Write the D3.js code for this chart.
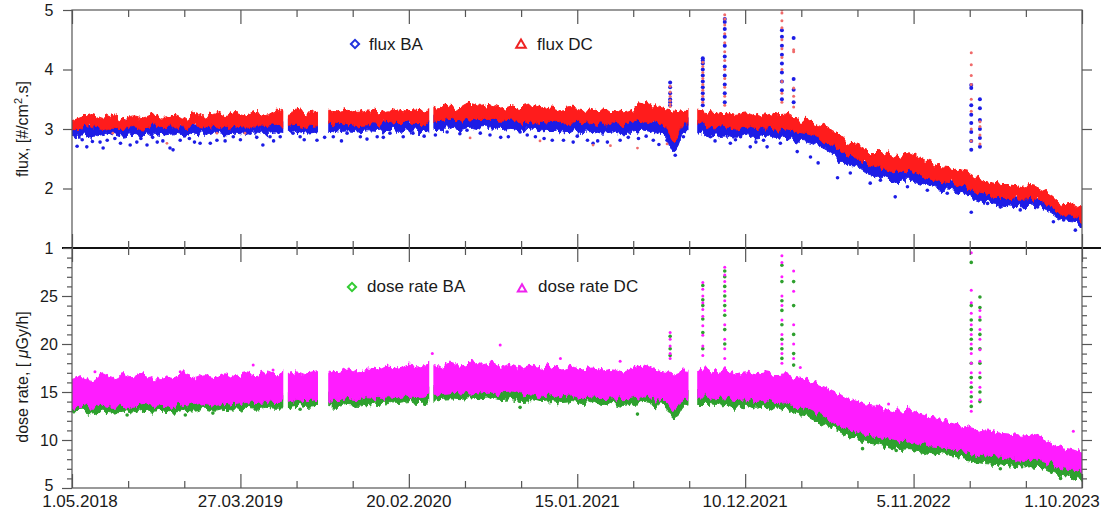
<!DOCTYPE html>
<html>
<head>
<meta charset="utf-8">
<script src="https://cdn.jsdelivr.net/npm/d3@7"></script>
<style>
  body { margin: 0; background: #fff; }
  svg { display: block; font-family: "Liberation Sans", Arial, sans-serif; }
</style>
</head>
<body>
<svg id="chart" width="1101" height="514"></svg>
<script>
// time axis
const startDate = new Date(2018, 4, 1);
const endDate = new Date(2023, 9, 1);
const tickDates = ["2018-05-01", "2019-03-27", "2020-02-20", "2021-01-15", "2021-12-10", "2022-11-05", "2023-10-01"];
const tickLabels = ["1.05.2018", "27.03.2019", "20.02.2020", "15.01.2021", "10.12.2021", "5.11.2022", "1.10.2023"];

// envelopes of the dense point clouds, one value every 20 days from 1.05.2018
const sampleStepDays = 20;
// periods without data
const dataGaps = [["2019-06-19", "2019-06-28"], ["2019-08-26", "2019-09-15"], ["2020-03-31", "2020-04-08"], ["2021-08-21", "2021-09-07"]];

const fluxDcHi = [3.14,3.20,3.26,3.18,3.24,3.17,3.22,3.19,3.25,3.18,
  3.23,3.16,3.26,3.20,3.27,3.21,3.26,3.22,3.28,3.23,
  3.30,3.26,3.30,3.25,3.28,3.30,3.29,3.33,3.28,3.32,
  3.29,3.34,3.30,3.33,3.31,3.34,3.36,3.40,3.36,3.43,
  3.38,3.42,3.37,3.41,3.36,3.39,3.34,3.37,3.32,3.35,
  3.31,3.34,3.30,3.33,3.29,3.34,3.45,3.38,3.33,3.30,
  3.33,3.32,3.30,3.26,3.28,3.23,3.27,3.22,3.27,3.24,
  3.25,3.17,3.16,3.08,3.02,2.92,2.78,2.76,2.62,2.62,
  2.58,2.52,2.60,2.50,2.44,2.37,2.35,2.30,2.26,2.15,
  2.10,2.07,2.04,2.02,2.05,1.98,1.88,1.75,1.74,1.63];
const fluxDcLo = [3.00,3.02,3.04,2.99,3.03,3.01,3.04,3.00,3.05,3.02,
  3.04,3.00,3.05,3.03,3.06,3.02,3.05,3.03,3.07,3.04,
  3.08,3.06,3.08,3.05,3.07,3.08,3.07,3.10,3.07,3.09,
  3.08,3.11,3.09,3.10,3.09,3.10,3.13,3.16,3.13,3.17,
  3.14,3.16,3.13,3.15,3.12,3.14,3.11,3.13,3.10,3.12,
  3.09,3.11,3.08,3.10,3.07,3.10,3.14,3.10,3.08,2.78,
  3.10,3.10,3.05,3.02,3.04,3.00,3.03,2.99,3.02,2.98,
  3.00,2.95,2.92,2.86,2.78,2.66,2.55,2.50,2.40,2.36,
  2.30,2.27,2.30,2.22,2.18,2.12,2.10,2.05,2.00,1.90,
  1.88,1.85,1.83,1.82,1.83,1.78,1.68,1.56,1.55,1.45];
const fluxBaHi = [3.07,3.09,3.10,3.06,3.10,3.08,3.11,3.07,3.12,3.09,
  3.11,3.07,3.12,3.10,3.13,3.09,3.12,3.10,3.14,3.11,
  3.15,3.13,3.15,3.12,3.14,3.15,3.14,3.17,3.14,3.16,
  3.15,3.18,3.16,3.17,3.16,3.17,3.20,3.23,3.20,3.24,
  3.21,3.23,3.20,3.22,3.19,3.21,3.18,3.20,3.17,3.19,
  3.16,3.18,3.15,3.17,3.14,3.17,3.22,3.17,3.15,2.95,
  3.17,3.17,3.12,3.09,3.11,3.07,3.10,3.06,3.09,3.05,
  3.07,3.02,2.99,2.93,2.85,2.73,2.62,2.57,2.47,2.43,
  2.37,2.34,2.37,2.29,2.25,2.19,2.17,2.12,2.07,1.97,
  1.95,1.92,1.90,1.89,1.90,1.85,1.75,1.63,1.62,1.52];
const fluxBaLo = [2.88,2.90,2.86,2.89,2.92,2.88,2.91,2.89,2.93,2.90,
  2.92,2.88,2.93,2.91,2.94,2.90,2.93,2.91,2.95,2.92,
  2.95,2.94,2.96,2.93,2.95,2.96,2.95,2.97,2.95,2.97,
  2.96,2.98,2.96,2.97,2.96,2.97,3.00,3.02,2.99,3.03,
  3.00,3.02,2.99,3.01,2.98,3.00,2.97,2.98,2.95,2.97,
  2.94,2.96,2.93,2.95,2.92,2.95,2.98,2.94,2.92,2.62,
  2.95,2.96,2.92,2.88,2.90,2.86,2.89,2.85,2.88,2.84,
  2.86,2.80,2.78,2.72,2.64,2.50,2.40,2.36,2.26,2.22,
  2.14,2.10,2.14,2.08,2.04,1.99,1.97,1.93,1.86,1.78,
  1.76,1.74,1.72,1.71,1.72,1.67,1.57,1.46,1.44,1.36];

const doseDcHi = [16.3,16.6,16.2,16.9,16.3,16.7,16.4,16.8,16.2,16.6,
  16.4,16.9,16.3,16.7,16.5,17.0,16.6,16.9,16.7,17.1,
  16.8,17.0,17.2,16.9,17.1,17.2,17.0,17.4,17.1,17.5,
  17.3,17.7,17.4,17.8,17.6,17.9,17.6,18.0,17.7,18.1,
  17.8,18.0,17.6,17.9,17.5,17.8,17.5,17.7,17.3,17.6,
  17.3,17.5,17.2,17.4,17.1,17.5,17.8,17.4,17.2,17.0,
  17.3,17.2,17.4,17.1,17.3,16.9,17.1,16.8,17.0,16.7,
  16.8,16.4,16.2,15.8,15.4,14.9,14.3,14.0,13.6,13.5,
  13.2,12.9,13.0,12.7,12.4,12.2,11.9,11.6,11.3,11.0,
  10.9,10.7,10.6,10.4,10.5,10.2,9.6,9.2,9.0,8.6];
const doseDcLo = [13.5,13.6,13.4,13.7,13.5,13.6,13.4,13.7,13.5,13.6,
  13.5,13.7,13.6,13.8,13.6,13.8,13.7,13.9,13.8,14.0,
  13.9,14.0,14.2,14.1,14.2,14.2,14.1,14.3,14.2,14.4,
  14.3,14.5,14.4,14.6,14.5,14.7,14.8,14.9,14.8,15.0,
  14.9,15.0,14.8,14.9,14.7,14.8,14.6,14.7,14.5,14.6,
  14.4,14.5,14.3,14.4,14.2,14.4,14.5,14.3,14.2,13.0,
  14.3,14.4,14.5,14.3,14.4,14.1,14.3,14.0,14.2,13.9,
  14.0,13.5,13.3,12.8,12.3,11.8,11.2,10.8,10.5,10.3,
  10.0,9.8,9.9,9.6,9.4,9.3,9.1,8.9,8.7,8.4,
  8.3,8.2,8.1,8.0,8.0,7.8,7.4,7.0,6.9,6.6];
const doseBaHi = [14.3,14.4,14.2,14.5,14.3,14.4,14.2,14.5,14.3,14.4,
  14.3,14.5,14.4,14.6,14.4,14.6,14.5,14.7,14.6,14.8,
  14.7,14.8,15.0,14.9,15.0,15.0,14.9,15.1,15.0,15.2,
  15.1,15.3,15.2,15.4,15.3,15.5,15.6,15.7,15.6,15.8,
  15.7,15.8,15.6,15.7,15.5,15.6,15.4,15.5,15.3,15.4,
  15.2,15.3,15.1,15.2,15.0,15.2,15.3,15.1,15.0,13.8,
  15.1,15.2,15.3,15.1,15.2,14.9,15.1,14.8,15.0,14.7,
  14.8,14.3,14.1,13.6,13.1,12.6,12.0,11.6,11.3,11.1,
  10.8,10.6,10.7,10.4,10.2,10.1,9.9,9.7,9.5,9.2,
  9.1,9.0,8.9,8.8,8.8,8.6,8.2,7.8,7.7,7.4];
const doseBaLo = [12.9,13.0,12.7,13.1,12.9,13.0,12.8,13.1,12.9,13.0,
  12.9,13.1,13.0,13.2,13.0,13.2,13.1,13.3,13.2,13.4,
  13.3,13.4,13.6,13.5,13.6,13.6,13.5,13.7,13.6,13.8,
  13.7,13.9,13.8,14.0,13.9,14.1,14.2,14.3,14.2,14.4,
  14.3,14.4,14.2,14.3,14.1,14.2,14.0,14.1,13.9,14.0,
  13.8,13.9,13.7,13.8,13.6,13.8,13.9,13.7,13.6,12.2,
  13.7,13.8,13.8,13.6,13.7,13.4,13.6,13.3,13.5,13.2,
  13.3,12.7,12.5,12.0,11.5,11.0,10.4,10.0,9.7,9.5,
  9.2,9.0,9.1,8.8,8.6,8.5,8.3,8.1,7.9,7.6,
  7.5,7.4,7.3,7.2,7.2,7.0,6.6,6.2,6.1,5.8];

// single points outside the clouds: [days since 1.05.2018, value]
const fluxBaScatter = [[10,2.71],[29,2.70],[55,2.78],[61,2.68],[69,2.81],[114,2.73],[127,2.78],[147,2.73],
  [167,2.78],[192,2.68],[198,2.65],[212,2.81],[251,2.76],[271,2.76],[284,2.81],[316,2.87],[349,2.93],
  [374,2.73],[388,2.87],[408,2.87],[433,2.93],[447,2.87],[480,2.81],[512,2.87],[539,2.93],[565,2.87],
  [598,2.87],[623,2.93],[649,2.87],[668,2.93],[712,2.90],[735,2.95],[774,2.98],[800,2.93],[819,2.90],
  [855,2.87],[878,2.95],[892,2.90],[908,2.87],[941,2.81],[963,2.81],[982,2.78],[1010,2.81],[1021,2.76],
  [1049,2.78],[1074,2.81],[1110,2.84],[1139,2.81],[1166,2.81],[1182,2.56],[1198,2.87],[1251,2.87],
  [1270,2.93],[1290,2.76],[1310,2.87],[1329,2.70],[1355,2.81],[1362,2.70],[1388,2.76],[1421,2.62],
  [1447,2.53],[1462,2.43],[1500,2.18],[1525,2.26],[1564,2.09],[1584,2.14],[1613,1.86],[1637,2.03],
  [1676,1.97],[1715,1.92],[1762,1.60],[1794,1.75],[1819,1.69],[1858,1.64],[1892,1.69],[1923,1.44],
  [1943,1.47],[1966,1.30],[20,2.82],[40,2.79],[84,2.84],[95,2.76],[135,2.84],[158,2.86],[178,2.80],
  [230,2.84],[240,2.78],[300,2.80],[330,2.82],[362,2.86],[395,2.80],[455,2.82],[495,2.86],[528,2.80],
  [578,2.83],[610,2.86],[690,2.88],[760,2.92],[840,2.86],[925,2.84],[990,2.88],[1030,2.80],[1090,2.86],
  [1125,2.88],[1150,2.74],[1260,2.80],[1300,2.82],[1340,2.78]];
const fluxDcScatter = [[80,2.93],[186,2.76],[284,2.93],[339,2.93],[780,2.85],[917,2.80],[1021,2.73],
  [1055,2.72],[1108,2.68],[1166,2.75]];
const doseBaScatter = [[108,12.6],[222,12.6],[276,12.8],[447,13.2],[878,13.4],[1108,12.7],[1549,9.1],
  [1615,8.9],[1819,7.0],[1937,6.0]];
const doseDcScatter = [[45,17.1],[212,17.1],[355,17.8],[394,17.3],[706,19.0],[839,19.9],[957,18.5],
  [1074,18.2],[1427,17.55],[1600,13.75],[1962,10.9]];

// short events: [days since 1.05.2018, values]
const fluxBaSpikes = [[1172,[3.78,3.70,3.60,3.50,3.45,3.40]],
  [1236,[4.19,4.15,4.10,4.00,3.90,3.80,3.70,3.60,3.50,3.40]],
  [1279,[4.85,4.80,4.68,4.55,4.40,4.22,4.05,3.90,3.75,3.60,3.45]],
  [1391,[4.66,4.55,4.40,4.25,4.10,3.95,3.80,3.65,3.50]],
  [1414,[4.53,3.84,3.66,3.45]],
  [1762,[3.74,3.69,3.40,3.24,3.10,2.95,2.80,2.65]],
  [1779,[3.50,3.35,3.15,3.00,2.85,2.70]]];
const fluxDcSpikes = [[1172,[3.72,3.62,3.55,3.48,3.42,3.38]],
  [1236,[4.12,4.05,3.95,3.85,3.75,3.65,3.55,3.45]],
  [1279,[4.92,4.85,4.75,4.60,4.45,4.30,4.15,4.00,3.85,3.70,3.55,3.40]],
  [1391,[5.00,4.95,4.82,4.70,4.50,4.35,4.20,4.00,3.80,3.60,3.45]],
  [1414,[4.33,4.30,3.69,3.55,3.37]],
  [1762,[4.28,4.08,3.90,3.75,3.50,3.30,3.00,2.80]],
  [1779,[3.12,3.04,2.90,2.75]]];
const doseBaSpikes = [[1172,[20.8,19.5,18.8]],
  [1236,[26.1,24.6,24.0,22.6,21.2,19.5]],
  [1279,[27.6,27.0,26.0,25.0,24.0,23.0,21.5,20.0]],
  [1391,[28.2,26.5,24.5,23.5,22.0,20.5,19.5,18.5]],
  [1414,[26.5,24.0,21.0,19.0,17.8]],
  [1762,[28.5,24.0,22.5,21.5,20.5,19.5,18.0,16.5,15.5,14.5,13.5]],
  [1779,[24.9,23.8,22.5,21.0,19.5,18.0,16.5,15.0,14.0]]];
const doseDcSpikes = [[1172,[21.2,20.5,19.8,19.0,18.5]],
  [1236,[26.4,25.7,25.0,24.3,23.6,22.9,21.9,20.9,19.8,18.8]],
  [1279,[28.0,27.2,26.5,25.5,24.5,23.5,22.0,20.5,19.5,18.5]],
  [1391,[29.2,28.5,27.0,25.0,24.0,22.5,21.0,20.0,19.0,18.0]],
  [1414,[27.6,25.5,22.0,20.0,18.5]],
  [1762,[29.5,25.6,24.3,23.2,22.0,21.0,20.0,19.0,18.0,17.0,16.0,15.0,14.0,13.0]],
  [1779,[23.5,22.8,21.5,20.5,19.4,18.2,17.0,15.5,14.2]]];

const blue = "#1c1ce6", red = "#ff1a1a", redLight = "#f06a6a";
const green = "#2ea02e", magenta = "#ff1aff";

const svg = d3.select("#chart");
const plotLeft = 72, plotRight = 1082, plotTop = 10, plotMid = 248, plotBottom = 488;

const parse = d3.timeParse("%Y-%m-%d");
const dayToDate = d => d3.timeDay.offset(startDate, d);

const x = d3.scaleTime().domain([startDate, endDate]).range([plotLeft, plotRight]);
const yFlux = d3.scaleLinear().domain([1, 5]).range([plotMid, plotTop]);
const yDose = d3.scaleLinear().domain([5, 30]).range([plotBottom, plotMid]);

const majorDates = tickDates.map(parse);
const minorDates = [];
d3.pairs(majorDates).forEach(([a, b]) => {
  minorDates.push(new Date(+a + (b - a) / 3), new Date(+a + 2 * (b - a) / 3));
});

const defs = svg.append("defs");

// ragged edges for the dense clouds: vertical-only displacement
function makeRough(id, seed, freq, scale) {
  const f = defs.append("filter").attr("id", id)
    .attr("filterUnits", "userSpaceOnUse")
    .attr("x", 0).attr("y", 0).attr("width", 1101).attr("height", 514);
  f.append("feTurbulence").attr("type", "fractalNoise")
    .attr("baseFrequency", freq).attr("numOctaves", 3).attr("seed", seed).attr("result", "noise");
  f.append("feColorMatrix").attr("in", "noise").attr("type", "matrix")
    .attr("values", "0 0 0 0 0.5  0 1 0 0 0  0 0 0 0 0  0 0 0 0 1").attr("result", "shift");
  f.append("feDisplacementMap").attr("in", "SourceGraphic").attr("in2", "shift")
    .attr("scale", scale).attr("xChannelSelector", "R").attr("yChannelSelector", "G");
}
makeRough("roughA", 3, "0.22 0.06", 12);
makeRough("roughB", 7, "0.22 0.06", 12);

function makeMask(id, y0, y1) {
  const m = defs.append("mask").attr("id", id).attr("maskUnits", "userSpaceOnUse")
    .attr("x", 0).attr("y", 0).attr("width", 1101).attr("height", 514);
  m.append("rect")
    .attr("x", plotLeft).attr("y", y0)
    .attr("width", plotRight - plotLeft).attr("height", y1 - y0)
    .attr("fill", "#fff");
  m.selectAll("rect.gap")
    .data(dataGaps)
    .join("rect")
    .attr("class", "gap")
    .attr("x", d => x(parse(d[0])))
    .attr("width", d => x(parse(d[1])) - x(parse(d[0])))
    .attr("y", y0)
    .attr("height", y1 - y0)
    .attr("fill", "#000");
}
makeMask("maskFlux", plotTop, plotMid);
makeMask("maskDose", plotMid, plotBottom);
defs.append("clipPath").attr("id", "clipFlux").append("rect")
  .attr("x", plotLeft).attr("y", plotTop).attr("width", plotRight - plotLeft).attr("height", plotMid - plotTop);
defs.append("clipPath").attr("id", "clipDose").append("rect")
  .attr("x", plotLeft).attr("y", plotMid).attr("width", plotRight - plotLeft).attr("height", plotBottom - plotMid);

function band(g, y, hi, lo, color, filterId) {
  const rows = hi.map((h, i) => ({date: dayToDate(i * sampleStepDays), hi: h, lo: lo[i]}));
  const area = d3.area()
    .x(d => x(d.date))
    .y0(d => y(d.lo))
    .y1(d => y(d.hi))
    .curve(d3.curveMonotoneX);
  g.append("path")
    .datum(rows)
    .attr("d", area)
    .attr("fill", color)
    .attr("stroke", color)
    .attr("stroke-width", 1)
    .attr("filter", `url(#${filterId})`);
}

function dots(g, y, pts, color, r) {
  g.append("g")
    .selectAll("circle")
    .data(pts)
    .join("circle")
    .attr("cx", d => x(dayToDate(d[0])))
    .attr("cy", d => y(d[1]))
    .attr("r", r)
    .attr("fill", color);
}

const flatSpikes = s => s.flatMap(([day, vals]) => vals.map(v => [day, v]));

// Upper panel: flux
const fluxG = svg.append("g").attr("clip-path", "url(#clipFlux)");
band(fluxG.append("g").attr("mask", "url(#maskFlux)"), yFlux, fluxBaHi, fluxBaLo, blue, "roughA");
dots(fluxG, yFlux, fluxBaScatter, blue, 1.8);
band(fluxG.append("g").attr("mask", "url(#maskFlux)"), yFlux, fluxDcHi, fluxDcLo, red, "roughB");
dots(fluxG, yFlux, fluxDcScatter, redLight, 1.4);
dots(fluxG, yFlux, flatSpikes(fluxBaSpikes), blue, 2);
dots(fluxG, yFlux, flatSpikes(fluxDcSpikes), redLight, 1.5);

// Lower panel: dose rate
const doseG = svg.append("g").attr("clip-path", "url(#clipDose)");
band(doseG.append("g").attr("mask", "url(#maskDose)"), yDose, doseBaHi, doseBaLo, green, "roughA");
dots(doseG, yDose, doseBaScatter, green, 1.8);
band(doseG.append("g").attr("mask", "url(#maskDose)"), yDose, doseDcHi, doseDcLo, magenta, "roughB");
dots(doseG, yDose, doseDcScatter, magenta, 1.5);
dots(doseG, yDose, flatSpikes(doseBaSpikes), green, 1.8);
dots(doseG, yDose, flatSpikes(doseDcSpikes), magenta, 1.5);

// Frame
const frameColor = "#555";
svg.append("rect")
  .attr("x", plotLeft).attr("y", plotTop)
  .attr("width", plotRight - plotLeft).attr("height", plotBottom - plotTop)
  .attr("fill", "none").attr("stroke", frameColor).attr("stroke-width", 1.2);
svg.append("line")
  .attr("x1", 62).attr("x2", 1101).attr("y1", plotMid).attr("y2", plotMid)
  .attr("stroke", "#111").attr("stroke-width", 2);

function styleAxis(g) {
  g.select(".domain").remove();
  g.selectAll(".tick line").attr("stroke", frameColor).attr("stroke-width", 1.2);
  return g;
}

// x ticks: top frame, both sides of separator, bottom (all pointing into the panels)
[[d3.axisTop, plotTop], [d3.axisBottom, plotMid], [d3.axisTop, plotMid], [d3.axisBottom, plotBottom]]
  .forEach(([axisFn, yPos]) => {
    svg.append("g").attr("transform", `translate(0,${yPos})`)
      .call(axisFn(x).tickValues(majorDates).tickSize(-14).tickSizeOuter(0).tickFormat(""))
      .call(styleAxis);
    svg.append("g").attr("transform", `translate(0,${yPos})`)
      .call(axisFn(x).tickValues(minorDates).tickSize(-7).tickSizeOuter(0).tickFormat(""))
      .call(styleAxis);
  });

// x tick labels
svg.append("g")
  .selectAll("text")
  .data(majorDates)
  .join("text")
  .attr("x", (d, i) => x(d) + (i === 0 ? 8 : i === majorDates.length - 1 ? -20 : 0))
  .attr("y", 507)
  .attr("text-anchor", "middle")
  .attr("font-size", 17)
  .attr("fill", "#1a1a1a")
  .text((d, i) => tickLabels[i]);

// y axes
function yLabels(g) {
  g.selectAll(".tick text")
    .attr("x", -23)
    .attr("text-anchor", "middle")
    .attr("font-size", 16)
    .attr("font-family", "Liberation Sans, Arial, sans-serif")
    .attr("fill", "#1a1a1a");
}
svg.append("g").attr("transform", `translate(${plotLeft},0)`)
  .call(d3.axisLeft(yFlux).tickValues([1, 2, 3, 4, 5]).tickSize(9).tickSizeOuter(0).tickFormat(d3.format("d")))
  .call(styleAxis).call(yLabels);
svg.append("g").attr("transform", `translate(${plotRight},0)`)
  .call(d3.axisRight(yFlux).tickValues([2, 3, 4]).tickSize(10).tickSizeOuter(0).tickFormat(""))
  .call(styleAxis);

const doseLeft = svg.append("g").attr("transform", `translate(${plotLeft},0)`)
  .call(d3.axisLeft(yDose).tickValues([5, 10, 15, 20, 25]).tickSize(10).tickSizeOuter(0).tickFormat(d3.format("d")))
  .call(styleAxis).call(yLabels);
// keep the bottom "5" clear of the date labels
doseLeft.selectAll(".tick text").filter(d => d === 5).attr("y", -3);
svg.append("g").attr("transform", `translate(${plotLeft},0)`)
  .call(d3.axisLeft(yDose).tickValues(d3.range(6, 30).filter(v => v % 5)).tickSize(5).tickSizeOuter(0).tickFormat(""))
  .call(styleAxis);
svg.append("g").attr("transform", `translate(${plotRight},0)`)
  .call(d3.axisRight(yDose).tickValues([10, 15, 20, 25]).tickSize(10).tickSizeOuter(0).tickFormat(""))
  .call(styleAxis);
svg.append("g").attr("transform", `translate(${plotRight},0)`)
  .call(d3.axisRight(yDose).tickValues(d3.range(6, 30).filter(v => v % 5)).tickSize(5).tickSizeOuter(0).tickFormat(""))
  .call(styleAxis);

// axis titles
const fluxTitle = svg.append("text")
  .attr("transform", "translate(28,129) rotate(-90)")
  .attr("text-anchor", "middle")
  .attr("font-size", 16)
  .attr("fill", "#1a1a1a");
fluxTitle.append("tspan").text("flux, [#/cm");
fluxTitle.append("tspan").attr("font-size", 11).attr("dy", -6).text("2");
fluxTitle.append("tspan").attr("dy", 6).text(".s]");

const doseTitle = svg.append("text")
  .attr("transform", "translate(28,377) rotate(-90)")
  .attr("text-anchor", "middle")
  .attr("font-size", 16)
  .attr("fill", "#1a1a1a");
doseTitle.append("tspan").text("dose rate, [ ");
doseTitle.append("tspan").attr("font-style", "italic").text("\u03bc");
doseTitle.append("tspan").text("Gy/h]");

// legends
const legendItems = [
  {label: "flux BA", shape: d3.symbolSquare, color: "#2233dd", x: 355, y: 44, tx: 369, ty: 50, rot: 45, size: 34},
  {label: "flux DC", shape: d3.symbolTriangle, color: "#ee2222", x: 521, y: 45, tx: 537, ty: 50, rot: 0, size: 40},
  {label: "dose rate BA", shape: d3.symbolSquare, color: "#33cc33", x: 352, y: 287, tx: 367, ty: 292, rot: 45, size: 34},
  {label: "dose rate DC", shape: d3.symbolTriangle, color: "#ee22ee", x: 522, y: 289, tx: 538, ty: 292, rot: 0, size: 30}
];
const legend = svg.append("g");
legend.selectAll("path")
  .data(legendItems)
  .join("path")
  .attr("transform", d => `translate(${d.x},${d.y}) rotate(${d.rot})`)
  .attr("d", d => d3.symbol(d.shape, d.size)())
  .attr("fill", "none")
  .attr("stroke", d => d.color)
  .attr("stroke-width", 2);
legend.selectAll("text")
  .data(legendItems)
  .join("text")
  .attr("x", d => d.tx)
  .attr("y", d => d.ty)
  .attr("font-size", 17)
  .attr("fill", "#1a1a1a")
  .text(d => d.label);
</script>
</body>
</html>
